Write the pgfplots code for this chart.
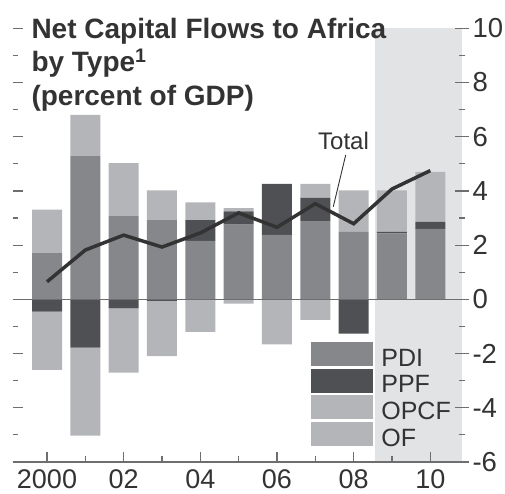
\documentclass[border=0pt]{standalone}
\usepackage{fontspec}
\setmainfont{Liberation Sans}
\usepackage{pgfplots}
\pgfplotsset{compat=1.18}
\usepackage{pgfplotstable}

\definecolor{pdi}{HTML}{86878B}
\definecolor{ppf}{HTML}{4F5053}
\definecolor{lgt}{HTML}{B4B5B9}
\definecolor{shade}{HTML}{E2E3E5}
\definecolor{txt}{HTML}{333333}
\definecolor{axg}{HTML}{6E6E6E}

\pgfplotstableread{
year pdi ppfpos lpos ppfneg lneg total
2000 1.72 0    1.59 -0.45 -2.15 0.65
2001 5.30 0    1.51 -1.78 -3.25 1.82
2002 3.09 0    1.94 -0.33 -2.37 2.37
2003 2.92 0    1.10 -0.06 -2.03 1.93
2004 2.16 0.76 0.66 0     -1.20 2.45
2005 2.76 0.49 0.12 0     -0.16 3.19
2006 2.38 1.88 0    0     -1.66 2.66
2007 2.87 0.87 0.52 0     -0.76 3.53
2008 2.49 0    1.53 -1.26 0     2.79
2009 2.43 0.06 1.53 0     0     4.07
2010 2.60 0.26 1.84 0     0     4.75
}\data

\pgfplotsset{base/.style={scale only axis, width=449.3pt, height=433.7pt,
  xmin=1999.105, xmax=2010.827, ymin=-6, ymax=10, at={(0pt,0pt)}, anchor=south west}}

\begin{document}
\begin{tikzpicture}
\useasboundingbox (-12.7pt,-32pt) rectangle (492.3pt,462pt);
% base axis: shade, bottom axis, left ticks
\begin{axis}[base, axis on top,
  axis x line*=bottom, axis y line*=left,
  y axis line style={draw=none}, x axis line style={axg, line width=1.2pt},
  tick align=inside, major tick length=10pt, minor tick length=5.5pt,
  tick style={axg, line width=1.2pt},
  xtick={2000,2002,2004,2006,2008,2010}, xticklabels={2000,02,04,06,08,10},
  minor x tick num=1,
  ytick={-6,-4,-2,0,2,4,6,8,10}, minor y tick num=1, yticklabels={},
  xticklabel style={font=\fontsize{27}{30}\selectfont, text=txt, inner ysep=0pt, yshift=-7pt},
  /pgf/number format/assume math mode=true]
\addplot[fill=shade, draw=none] coordinates {(2008.56,-6) (2010.827,-6) (2010.827,10) (2008.56,10)} -- cycle;
\end{axis}
% positive stacks
\begin{axis}[base, hide axis, ybar stacked, bar width=30pt]
\addplot[fill=pdi, draw=none] table[x=year, y=pdi] {\data};
\addplot[fill=ppf, draw=none] table[x=year, y=ppfpos] {\data};
\addplot[fill=lgt, draw=none] table[x=year, y=lpos] {\data};
\end{axis}
% negative stacks
\begin{axis}[base, hide axis, ybar stacked, bar width=30pt]
\addplot[fill=ppf, draw=none] table[x=year, y=ppfneg] {\data};
\addplot[fill=lgt, draw=none] table[x=year, y=lneg] {\data};
\end{axis}
% total line, zero line, right axis, legend
\begin{axis}[base, axis x line=none, axis y line*=right,
  y axis line style={draw=none}, xtick=\empty,
  tick align=center, major tick length=14pt, minor tick length=7pt,
  tick style={axg, line width=1.2pt},
  ytick={-6,-4,-2,0,2,4,6,8,10}, minor y tick num=1,
  yticklabels={-6,-4,-2,0,2,4,6,8,10},
  yticklabel style={font=\fontsize{27.5}{30}\selectfont, text=txt, anchor=west},
  legend style={at={(0.6633,0.276)}, anchor=north west, draw=none, fill=none,
    inner sep=0pt, outer sep=0pt, column sep=8pt, row sep=1pt,
    font=\fontsize{25}{27}\selectfont, text=txt, nodes={inner sep=0pt}},
  legend cell align=left,
  legend image code/.code={\fill[#1, draw=none] (0pt,-7.5pt) rectangle (62.6pt,16.2pt);}]
\draw[axg, line width=1.3pt] (axis cs:1999.105,0) -- (axis cs:2010.9,0);
\addplot[txt, line width=3.5pt, forget plot] table[x=year, y=total] {\data};
\addlegendimage{fill=pdi}\addlegendentry{PDI}
\addlegendimage{fill=ppf}\addlegendentry{PPF}
\addlegendimage{fill=lgt}\addlegendentry{OPCF}
\addlegendimage{fill=lgt}\addlegendentry{OF}
\end{axis}
% annotations
\node[anchor=base west, font=\fontsize{24}{26}\selectfont, text=txt, inner sep=0pt] at (305.3pt,312pt) {Total};
\draw[txt, line width=0.9pt] (333pt,307pt) -- (320.6pt,255.3pt);
\node[anchor=base west, font=\bfseries\fontsize{28}{30}\selectfont, text=txt, inner sep=0pt] at (18.6pt,423.7pt) {Net Capital Flows to Africa};
\node[anchor=base west, font=\bfseries\fontsize{28}{30}\selectfont, text=txt, inner sep=0pt] at (18.6pt,390pt) {by Type\textsuperscript{1}};
\node[anchor=base west, font=\bfseries\fontsize{28}{30}\selectfont, text=txt, inner sep=0pt] at (18.6pt,356pt) {(percent of GDP)};
\end{tikzpicture}
\end{document}
